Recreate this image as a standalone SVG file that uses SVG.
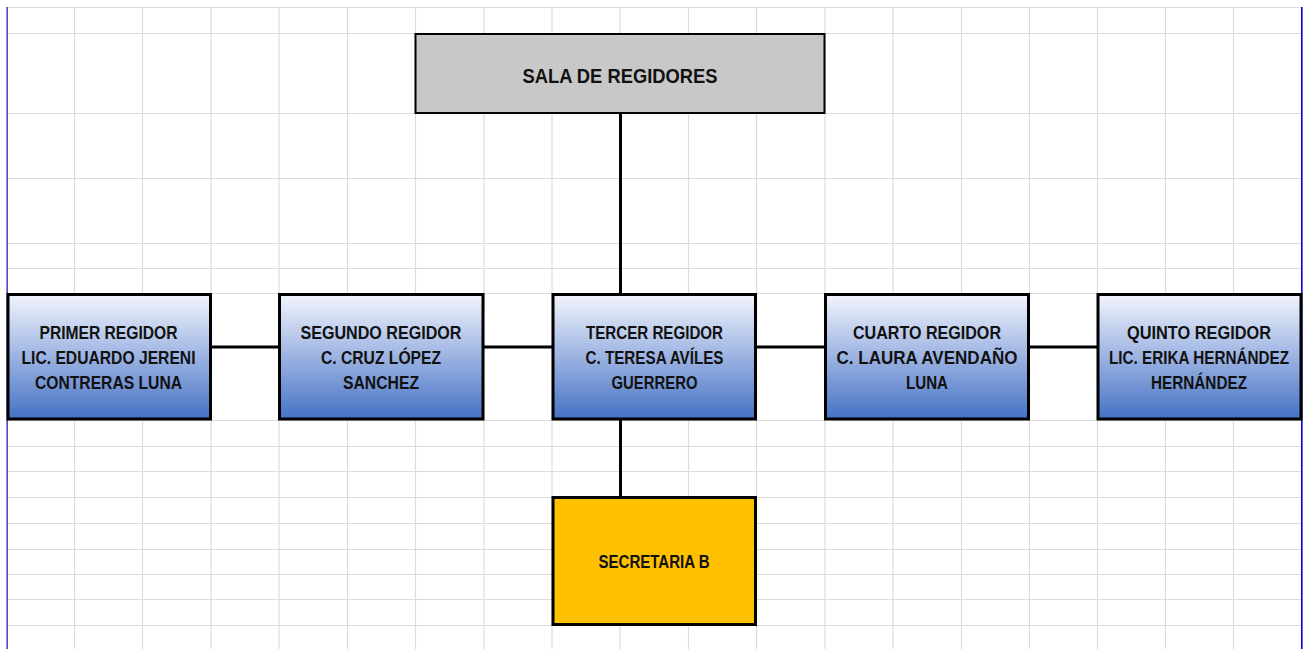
<svg xmlns="http://www.w3.org/2000/svg" width="1304" height="649" viewBox="0 0 1304 649">
<style>
.grid line{stroke:#dcdcdc;stroke-width:1.2}
.box{stroke:#000;stroke-width:3}
.t{font-family:"Liberation Sans",Arial,sans-serif;font-weight:bold;fill:#111;text-anchor:middle}
.r{font-size:18px}
.conn line{stroke:#000;stroke-width:3}
</style>
<defs>
<linearGradient id="blue" x1="0" y1="0" x2="0" y2="1">
<stop offset="0" stop-color="#f2f5fc"/>
<stop offset="0.5" stop-color="#9cb3e2"/>
<stop offset="1" stop-color="#4472c4"/>
</linearGradient>
</defs>
<rect width="1304" height="649" fill="#fff"/>
<g class="grid">
<line x1="7" y1="7.5" x2="1302" y2="7.5"/>
<line x1="7" y1="33.5" x2="1302" y2="33.5"/>
<line x1="7" y1="113.5" x2="1302" y2="113.5"/>
<line x1="7" y1="178.5" x2="1302" y2="178.5"/>
<line x1="7" y1="243.5" x2="1302" y2="243.5"/>
<line x1="7" y1="268.5" x2="1302" y2="268.5"/>
<line x1="7" y1="293.5" x2="1302" y2="293.5"/>
<line x1="7" y1="420.5" x2="1302" y2="420.5"/>
<line x1="7" y1="446.5" x2="1302" y2="446.5"/>
<line x1="7" y1="471.5" x2="1302" y2="471.5"/>
<line x1="7" y1="497.5" x2="1302" y2="497.5"/>
<line x1="7" y1="523.5" x2="1302" y2="523.5"/>
<line x1="7" y1="549.5" x2="1302" y2="549.5"/>
<line x1="7" y1="574.5" x2="1302" y2="574.5"/>
<line x1="7" y1="599.5" x2="1302" y2="599.5"/>
<line x1="7" y1="625.5" x2="1302" y2="625.5"/>
<line x1="74.5" y1="7" x2="74.5" y2="649"/>
<line x1="142.5" y1="7" x2="142.5" y2="649"/>
<line x1="211" y1="7" x2="211" y2="649"/>
<line x1="279" y1="7" x2="279" y2="649"/>
<line x1="347.5" y1="7" x2="347.5" y2="649"/>
<line x1="415.5" y1="7" x2="415.5" y2="649"/>
<line x1="484" y1="7" x2="484" y2="649"/>
<line x1="552" y1="7" x2="552" y2="649"/>
<line x1="620" y1="7" x2="620" y2="649"/>
<line x1="688.5" y1="7" x2="688.5" y2="649"/>
<line x1="756.5" y1="7" x2="756.5" y2="649"/>
<line x1="825" y1="7" x2="825" y2="649"/>
<line x1="893" y1="7" x2="893" y2="649"/>
<line x1="961.5" y1="7" x2="961.5" y2="649"/>
<line x1="1029.5" y1="7" x2="1029.5" y2="649"/>
<line x1="1097.5" y1="7" x2="1097.5" y2="649"/>
<line x1="1165.5" y1="7" x2="1165.5" y2="649"/>
<line x1="1233.5" y1="7" x2="1233.5" y2="649"/>
</g>
<line x1="7.2" y1="7" x2="7.2" y2="649" stroke="#4848c8" stroke-width="1.6"/>
<line x1="1301.8" y1="7" x2="1301.8" y2="649" stroke="#0000e0" stroke-width="1.6"/>
<g class="conn">
<line x1="620.5" y1="113" x2="620.5" y2="293"/>
<line x1="620.5" y1="420" x2="620.5" y2="497"/>
<line x1="211" y1="347" x2="279" y2="347"/>
<line x1="484" y1="347" x2="552" y2="347"/>
<line x1="756" y1="347" x2="825" y2="347"/>
<line x1="1029" y1="347" x2="1097" y2="347"/>
</g>
<g id="sala">
<rect x="415.5" y="34" width="409" height="79" fill="#c8c8c8" stroke="#000" stroke-width="2"/>
<text class="t" x="620" y="83" font-size="21" textLength="195" lengthAdjust="spacingAndGlyphs">SALA DE REGIDORES</text>
</g>
<g id="primer">
<rect class="box" x="8" y="294.5" width="202.5" height="124.5" fill="url(#blue)"/>
<text class="t r" x="108.5" y="339" textLength="138" lengthAdjust="spacingAndGlyphs">PRIMER REGIDOR</text>
<text class="t r" x="108.5" y="364" textLength="174" lengthAdjust="spacingAndGlyphs">LIC. EDUARDO JERENI</text>
<text class="t r" x="108.5" y="389" textLength="147" lengthAdjust="spacingAndGlyphs">CONTRERAS LUNA</text>
</g>
<g id="segundo">
<rect class="box" x="279.5" y="294.5" width="203.5" height="124.5" fill="url(#blue)"/>
<text class="t r" x="381" y="339" textLength="161" lengthAdjust="spacingAndGlyphs">SEGUNDO REGIDOR</text>
<text class="t r" x="381" y="364" textLength="120" lengthAdjust="spacingAndGlyphs">C. CRUZ LÓPEZ</text>
<text class="t r" x="381" y="389" textLength="76" lengthAdjust="spacingAndGlyphs">SANCHEZ</text>
</g>
<g id="tercer">
<rect class="box" x="553" y="294.5" width="202.5" height="124.5" fill="url(#blue)"/>
<text class="t r" x="654.5" y="339" textLength="137" lengthAdjust="spacingAndGlyphs">TERCER REGIDOR</text>
<text class="t r" x="654.5" y="364" textLength="138" lengthAdjust="spacingAndGlyphs">C. TERESA AVÍLES</text>
<text class="t r" x="654.5" y="389" textLength="86" lengthAdjust="spacingAndGlyphs">GUERRERO</text>
</g>
<g id="cuarto">
<rect class="box" x="825.5" y="294.5" width="203" height="124.5" fill="url(#blue)"/>
<text class="t r" x="927" y="339" textLength="148" lengthAdjust="spacingAndGlyphs">CUARTO REGIDOR</text>
<text class="t r" x="927" y="364" textLength="181" lengthAdjust="spacingAndGlyphs">C. LAURA AVENDAÑO</text>
<text class="t r" x="927" y="389" textLength="42" lengthAdjust="spacingAndGlyphs">LUNA</text>
</g>
<g id="quinto">
<rect class="box" x="1098" y="294.5" width="203" height="124.5" fill="url(#blue)"/>
<text class="t r" x="1199" y="339" textLength="144" lengthAdjust="spacingAndGlyphs">QUINTO REGIDOR</text>
<text class="t r" x="1199" y="364" textLength="180" lengthAdjust="spacingAndGlyphs">LIC. ERIKA HERNÁNDEZ</text>
<text class="t r" x="1199" y="389" textLength="96" lengthAdjust="spacingAndGlyphs">HERNÁNDEZ</text>
</g>
<g id="secretaria">
<rect class="box" x="553" y="497.5" width="202.5" height="127" fill="#ffc000"/>
<text class="t" x="654" y="568" font-size="19" textLength="111" lengthAdjust="spacingAndGlyphs">SECRETARIA B</text>
</g>
</svg>
